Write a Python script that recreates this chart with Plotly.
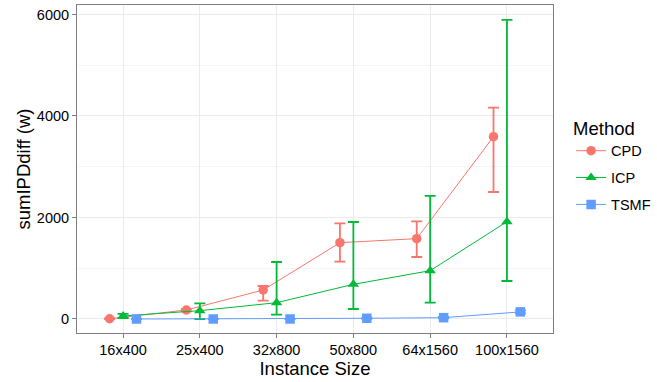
import plotly.graph_objects as go

categories = ["16x400", "25x400", "32x800", "50x800", "64x1560", "100x1560"]
methods = ["CPD", "ICP", "TSMF"]
colors = {"CPD": "#F8766D", "ICP": "#00BA38", "TSMF": "#619CFF"}
symbols = {"CPD": "circle", "ICP": "triangle-up", "TSMF": "square"}

cpd_mean = [5, 177, 571, 1504, 1583, 3592]
cpd_low = [0, 150, 360, 1130, 1222, 2502]
cpd_high = [10, 200, 650, 1886, 1925, 4164]

icp_mean = [60, 164, 321, 683, 952, 1917]
icp_low = [20, 0, 85, 197, 321, 749]
icp_high = [100, 309, 1123, 1911, 2424, 5892]

tsmf_mean = [0, 0, 0, 14, 26, 140]
tsmf_low = [0, 0, 0, 5, 15, 110]
tsmf_high = [0, 0, 0, 25, 40, 170]

series = {
    "CPD": (cpd_mean, cpd_low, cpd_high),
    "ICP": (icp_mean, icp_low, icp_high),
    "TSMF": (tsmf_mean, tsmf_low, tsmf_high),
}

dodge = 0.35
offsets = {m: (i - 1) * dodge / 2 for i, m in enumerate(methods)}

fig = go.Figure()
for m in methods:
    mean, low, high = series[m]
    xs = [i + 1 + offsets[m] for i in range(len(categories))]
    fig.add_trace(go.Scatter(
        x=xs, y=mean, name=m, mode="lines+markers", legendgroup=m,
        line=dict(color=colors[m], width=1),
        marker=dict(color=colors[m], symbol=symbols[m], size=10 if m == "ICP" else 9.5),
        error_y=dict(type="data", symmetric=False,
                     array=[h - v for h, v in zip(high, mean)],
                     arrayminus=[v - l for v, l in zip(mean, low)],
                     color=colors[m], thickness=1.8, width=5.5),
    ))

fig.update_layout(
    width=657, height=382,
    margin=dict(l=77, r=104, t=5, b=49, autoexpand=False),
    paper_bgcolor="white", plot_bgcolor="white",
    font=dict(family="Liberation Sans, Arial, sans-serif", color="black"),
    showlegend=True,
    legend=dict(
        title=dict(text="Method", font=dict(size=18.5)),
        font=dict(size=14.5),
        x=1.038, xanchor="left", y=0.51, yanchor="middle",
        bgcolor="rgba(0,0,0,0)", tracegroupgap=5, itemwidth=30,
    ),
    xaxis=dict(
        range=[0.4, 6.6], tickmode="array",
        tickvals=list(range(1, len(categories) + 1)), ticktext=categories,
        showgrid=True, gridcolor="#EBEBEB", gridwidth=1,
        zeroline=False, showline=True, linecolor="#7F7F7F", linewidth=1, mirror=True,
        ticks="outside", ticklen=4, tickcolor="#7F7F7F",
        tickfont=dict(size=14.5, color="black"),
        title=dict(text="Instance Size", font=dict(size=18.5), standoff=4),
    ),
    yaxis=dict(
        range=[-276, 6187], tick0=0, dtick=2000,
        showgrid=True, gridcolor="#EBEBEB", gridwidth=1,
        minor=dict(dtick=1000, tick0=0, showgrid=True, gridcolor="#F5F5F5", gridwidth=1),
        zeroline=False, showline=True, linecolor="#7F7F7F", linewidth=1, mirror=True,
        ticks="outside", ticklen=4, tickcolor="#7F7F7F",
        tickfont=dict(size=14.5, color="black"),
        title=dict(text="sumIPDdiff (w)", font=dict(size=18.5), standoff=1),
    ),
)

fig.write_html("out.html", config={"displayModeBar": False},
               post_script="document.body.style.margin='0';")
